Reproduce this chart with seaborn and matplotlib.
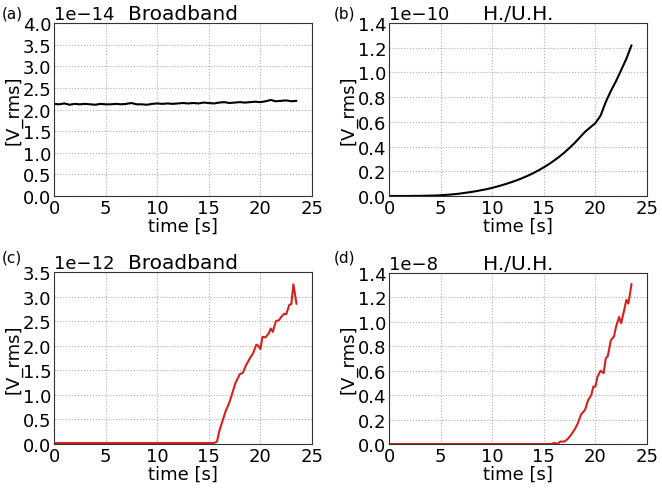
import numpy as np
import pandas as pd
import matplotlib
matplotlib.use("Agg")
import matplotlib.pyplot as plt
import seaborn as sns

# ---- data ----
time_ab = [0.0, 0.5, 1.0, 1.5, 2.0, 2.5, 3.0, 3.5, 4.0, 4.5, 5.0, 5.5, 6.0, 6.5, 7.0, 7.5,
           8.0, 8.5, 9.0, 9.5, 10.0, 10.5, 11.0, 11.5, 12.0, 12.5, 13.0, 13.5, 14.0, 14.5,
           15.0, 15.5, 16.0, 16.5, 17.0, 17.5, 18.0, 18.5, 19.0, 19.5, 20.0, 20.5, 21.0,
           21.5, 22.0, 22.5, 23.0, 23.5]
broadband_a = [2.13, 2.12, 2.14, 2.11, 2.13, 2.12, 2.13, 2.12, 2.11, 2.13, 2.12, 2.12, 2.13,
               2.12, 2.13, 2.15, 2.12, 2.12, 2.11, 2.13, 2.14, 2.13, 2.14, 2.13, 2.14, 2.15,
               2.14, 2.15, 2.14, 2.16, 2.15, 2.14, 2.16, 2.17, 2.15, 2.16, 2.17, 2.16, 2.17,
               2.18, 2.17, 2.19, 2.22, 2.19, 2.20, 2.21, 2.19, 2.20]
huh_b = [0.000, 0.000, 0.000, 0.000, 0.000, 0.001, 0.001, 0.002, 0.003, 0.004, 0.006, 0.009,
         0.012, 0.016, 0.021, 0.027, 0.033, 0.040, 0.048, 0.056, 0.066, 0.077, 0.089, 0.102,
         0.116, 0.131, 0.148, 0.166, 0.186, 0.208, 0.232, 0.258, 0.287, 0.318, 0.352, 0.390,
         0.430, 0.475, 0.520, 0.555, 0.590, 0.650, 0.760, 0.850, 0.930, 1.020, 1.110, 1.220]

time_cd = [0.0, 2.0, 4.0, 6.0, 8.0, 10.0, 12.0, 14.0, 15.0, 15.5, 15.8, 16.0, 16.3, 16.6,
           17.0, 17.3, 17.6, 18.0, 18.3, 18.6, 19.0, 19.3, 19.6, 19.8, 20.0, 20.2, 20.5,
           20.8, 21.0, 21.2, 21.5, 21.8, 22.0, 22.3, 22.5, 22.8, 23.0, 23.2, 23.5]
broadband_c = [0.02, 0.02, 0.02, 0.02, 0.02, 0.02, 0.02, 0.02, 0.02, 0.02, 0.05, 0.25, 0.45,
               0.65, 0.85, 1.05, 1.25, 1.42, 1.45, 1.60, 1.75, 1.85, 2.02, 2.00, 1.93, 2.18,
               2.17, 2.25, 2.35, 2.28, 2.50, 2.52, 2.58, 2.65, 2.64, 2.83, 2.85, 3.25, 2.85]
huh_d = [0.00, 0.00, 0.00, 0.00, 0.00, 0.00, 0.00, 0.00, 0.00, 0.00, 0.00, 0.01, 0.00, 0.02,
         0.02, 0.04, 0.07, 0.12, 0.17, 0.24, 0.28, 0.36, 0.40, 0.47, 0.47, 0.55, 0.60, 0.58,
         0.70, 0.72, 0.85, 0.88, 0.96, 1.04, 0.99, 1.10, 1.18, 1.15, 1.31]

panels = [
    ("(a)", "Broadband", time_ab, broadband_a, 1e-14, 4.0, 0.5, "black"),
    ("(b)", "H./U.H.", time_ab, huh_b, 1e-10, 1.4, 0.2, "black"),
    ("(c)", "Broadband", time_cd, broadband_c, 1e-12, 3.5, 0.5, "#d62020"),
    ("(d)", "H./U.H.", time_cd, huh_d, 1e-8, 1.4, 0.2, "#d62020"),
]

sns.set_style("whitegrid")
plt.rcParams["font.family"] = ["DejaVu Sans"]
plt.rcParams["font.size"] = 13
plt.rcParams["text.color"] = "black"
plt.rcParams["axes.labelcolor"] = "black"
plt.rcParams["xtick.color"] = "black"
plt.rcParams["ytick.color"] = "black"

fig = plt.figure(figsize=(6.62, 4.89), dpi=100)
W, H = 662, 489
rects = [
    (54, 24, 312, 197),
    (389, 24, 647, 197),
    (54, 273, 312, 445),
    (389, 274, 647, 445),
]
label_pos = [(2, 14), (334, 14), (2, 258), (334, 258)]

for (lab, title, t, v, scale, ymax, ystep, color), (l, tp, r, b), (lx, ly) in zip(panels, rects, label_pos):
    ax = fig.add_axes([l / W, 1 - b / H, (r - l) / W, (b - tp) / H])
    df = pd.DataFrame({"time": t, "V": np.array(v) * scale})
    sns.lineplot(data=df, x="time", y="V", ax=ax, color=color, linewidth=1.5)
    ax.set_xlim(0, 25)
    ax.set_ylim(0, ymax * scale)
    ax.set_xticks(np.arange(0, 26, 5))
    ax.set_yticks(np.arange(0, ymax + 1e-9, ystep) * scale)
    ax.ticklabel_format(style="sci", axis="y", scilimits=(0, 0), useMathText=False)
    ax.yaxis.get_offset_text().set_fontsize(13)
    ax.tick_params(labelsize=13, length=0, pad=2, colors="black")
    ax.grid(True, color="#b0b0b0", linestyle=":", linewidth=0.8)
    for s in ax.spines.values():
        s.set_color("#333333")
        s.set_linewidth(0.8)
    ax.set_facecolor("white")
    ax.set_title(title, fontsize=14.5, pad=3, color="black")
    ax.set_xlabel("time [s]", fontsize=13, labelpad=0)
    ax.set_ylabel("[V_rms]", fontsize=13, labelpad=0)
    fig.text(lx / W, 1 - ly / H, lab, fontsize=11, va="center", ha="left", color="black")

fig.savefig("out.png", dpi=100, facecolor="white")
